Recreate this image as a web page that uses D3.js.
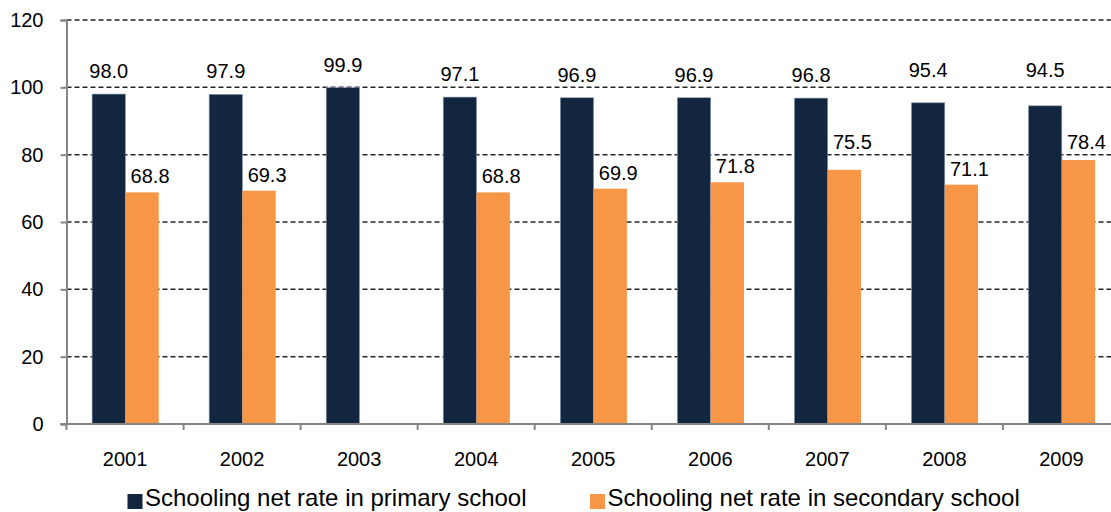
<!DOCTYPE html>
<html>
<head>
<meta charset="utf-8">
<script src="https://cdn.jsdelivr.net/npm/d3@7/dist/d3.min.js"></script>
<style>
  html, body { margin: 0; padding: 0; background: #ffffff; }
  svg { display: block; font-family: "Liberation Sans", Arial, Helvetica, sans-serif; }
</style>
</head>
<body>
<svg id="chart" width="1111" height="512"></svg>
<script>
// Net schooling rates by year (%)
const years = ["2001", "2002", "2003", "2004", "2005", "2006", "2007", "2008", "2009"];
const primaryRate = [98.0, 97.9, 99.9, 97.1, 96.9, 96.9, 96.8, 95.4, 94.5];
const secondaryRate = [68.8, 69.3, null, 68.8, 69.9, 71.8, 75.5, 71.1, 78.4];
const seriesNames = ["Schooling net rate in primary school", "Schooling net rate in secondary school"];
const yTicks = [0, 20, 40, 60, 80, 100, 120];

const colors = { primary: "#12263f", secondary: "#f79646" };

const svg = d3.select("#chart");
const W = 1111;
const plotLeft = 66.5, plotTop = 20, plotBottom = 424;
const step = 117.05;

const x0 = d3.scaleBand().domain(years).range([plotLeft, plotLeft + step * years.length]).padding(0);
const x1 = d3.scaleBand().domain(["primary", "secondary"]).range([25.6, 92.2]).padding(0);
const y = d3.scaleLinear().domain([0, 120]).range([plotBottom, plotTop]);

const gridValues = yTicks.filter(d => d > 0);

// dashed gridlines
svg.append("g")
  .selectAll("line")
  .data(gridValues)
  .join("line")
  .attr("x1", plotLeft).attr("x2", W)
  .attr("y1", d => y(d)).attr("y2", d => y(d))
  .attr("stroke", "#262626")
  .attr("stroke-width", 1.5)
  .attr("stroke-dasharray", "5,3");

// bars
const rows = years.map((yr, i) => ({ year: yr, primary: primaryRate[i], secondary: secondaryRate[i] }));

const groups = svg.append("g")
  .selectAll("g")
  .data(rows)
  .join("g")
  .attr("transform", d => `translate(${x0(d.year)},0)`);

groups.append("rect")
  .attr("x", x1("primary"))
  .attr("width", x1.bandwidth())
  .attr("y", d => y(d.primary))
  .attr("height", d => y(0) - y(d.primary))
  .attr("fill", colors.primary)
  .attr("stroke", "#8a9bb1")
  .attr("stroke-width", 0.6);

groups.filter(d => d.secondary != null).append("rect")
  .attr("x", x1("secondary"))
  .attr("width", x1.bandwidth())
  .attr("y", d => y(d.secondary))
  .attr("height", d => y(0) - y(d.secondary))
  .attr("fill", colors.secondary);

// label baseline: just above the bar, lifted above a gridline it would cross
function labelBaseline(v, gap) {
  let b = y(v) - gap;
  for (const g of gridValues) {
    const gy = y(g);
    if (gy > b - 16 && gy < b + 4) b = gy - 10 + (gap > 12 ? 0 : 4);
  }
  return b;
}

// value labels
groups.append("text")
  .attr("x", x1("primary") + x1.bandwidth() / 2)
  .attr("y", d => labelBaseline(d.primary, 16))
  .attr("text-anchor", "middle")
  .attr("font-size", 20)
  .attr("fill", "#000")
  .text(d => d.primary.toFixed(1));

groups.filter(d => d.secondary != null).append("text")
  .attr("x", x1("secondary") + x1.bandwidth() / 2 + 8)
  .attr("y", d => labelBaseline(d.secondary, 9))
  .attr("text-anchor", "middle")
  .attr("font-size", 20)
  .attr("fill", "#000")
  .text(d => d.secondary.toFixed(1));

// y axis
const yAxis = svg.append("g")
  .attr("transform", `translate(${plotLeft},0)`)
  .call(d3.axisLeft(y).tickValues(yTicks).tickSize(6).tickPadding(17).tickFormat(d3.format("d")));
yAxis.select(".domain").attr("stroke", "#868686").attr("stroke-width", 2);
yAxis.selectAll(".tick line").attr("stroke", "#868686").attr("stroke-width", 2);
yAxis.selectAll(".tick text").attr("font-size", 20).attr("fill", "#000")
  .attr("font-family", "'Liberation Sans', Arial, sans-serif");

// x axis
const xAxis = svg.append("g").attr("transform", `translate(0,${plotBottom})`);
xAxis.append("line")
  .attr("x1", plotLeft - 6).attr("x2", W)
  .attr("stroke", "#868686").attr("stroke-width", 2);
xAxis.selectAll("line.tk")
  .data(years)
  .join("line")
  .attr("class", "tk")
  .attr("x1", d => x0(d)).attr("x2", d => x0(d))
  .attr("y1", 0).attr("y2", 6)
  .attr("stroke", "#868686").attr("stroke-width", 2);
xAxis.selectAll("text")
  .data(years)
  .join("text")
  .attr("x", d => x0(d) + x0.bandwidth() / 2)
  .attr("y", 42)
  .attr("text-anchor", "middle")
  .attr("font-size", 20)
  .attr("fill", "#000")
  .text(d => d);

// legend
const legendItems = [
  { name: seriesNames[0], color: colors.primary, x: 127.5 },
  { name: seriesNames[1], color: colors.secondary, x: 590 }
];
const legend = svg.append("g")
  .selectAll("g")
  .data(legendItems)
  .join("g")
  .attr("transform", d => `translate(${d.x},0)`);
legend.append("rect")
  .attr("x", 0).attr("y", 494).attr("width", 15).attr("height", 15)
  .attr("fill", d => d.color);
legend.append("text")
  .attr("x", 17.5).attr("y", 506)
  .attr("font-size", 24)
  .attr("fill", "#000")
  .text(d => d.name);
</script>
</body>
</html>
